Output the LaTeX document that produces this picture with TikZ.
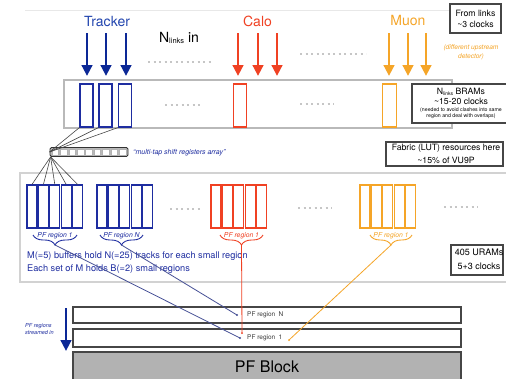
\documentclass[tikz,border=0pt]{standalone}
\usepackage{fontspec}
\setmainfont{TeX Gyre Heros}
\usetikzlibrary{arrows.meta,decorations.pathreplacing}
\definecolor{navy}{RGB}{12,40,150}
\definecolor{blueT}{RGB}{35,70,175}
\definecolor{blueR}{RGB}{30,45,160}
\definecolor{blueL}{RGB}{70,80,150}
\definecolor{redC}{RGB}{240,65,35}
\definecolor{orangeC}{RGB}{245,165,40}
\definecolor{boxgray}{RGB}{70,70,70}
\begin{document}
\begin{tikzpicture}[x=1pt,y=-1pt,
  inarrow/.style={line width=2.8pt,-{Triangle[length=11pt,width=10.5pt]}},
  bram/.style={draw,line width=1.2pt,minimum width=13pt,minimum height=43pt,inner sep=0pt},
  gbox/.style={draw,line width=1.2pt,minimum width=10pt,minimum height=43pt,inner sep=0pt},
  infobox/.style={draw=boxgray,line width=1.1pt,fill=white,inner sep=0pt},
  infotext/.style={inner sep=0pt,font=\fontsize{8.7}{10}\selectfont},
  dotsep/.style={line width=2.2pt,gray!45,dash pattern=on 2.2pt off 3.3pt},
  section/.style={gray!35,line width=1.3pt},
  pfrow/.style={draw=boxgray,line width=1.6pt,minimum width=388pt,inner sep=0pt},
  feed/.style={line width=0.8pt},
  brc/.style={decorate,decoration={brace,mirror,amplitude=10pt},line width=0.9pt},
  brlabel/.style={inner sep=0pt,font=\itshape\fontsize{6.8}{8}\selectfont},
  title/.style={inner sep=0pt,font=\fontsize{14}{16}\selectfont},
  rowlabel/.style={anchor=west,inner sep=0pt,text=gray!45!black,font=\fontsize{6.5}{8}\selectfont},
  wire/.style={gray!55!black,line width=0.6pt}]
\fill[white] (0,0) rectangle (506,378);
\useasboundingbox (0,0) rectangle (506,378);

% top section line
\draw[gray!18,line width=1pt] (25,10) -- (450,10);

% titles
\node[title,text=blueT] (trk) at (107,21) {Tracker};
\node[title,text=redC] (calo) at (257.5,21) {Calo};
\node[title,text=orangeC] (muon) at (408,20) {Muon};
\node[title] (nl) at (179,38) {N\raisebox{-0.5pt}{\fontsize{7.5}{8}\selectfont links} in};

% input arrows
\foreach \x [count=\i] in {87,106,126} {
  \coordinate (ts\i) at (\x,33); \coordinate (te\i) at (\x,76);
  \draw[inarrow,navy] (ts\i) -- (te\i);}
\foreach \x [count=\i] in {238,258,277} {
  \coordinate (cs\i) at (\x,33); \coordinate (ce\i) at (\x,76);
  \draw[inarrow,redC] (cs\i) -- (ce\i);}
\foreach \x [count=\i] in {389,408,426} {
  \coordinate (ms\i) at (\x,33); \coordinate (me\i) at (\x,76);
  \draw[inarrow,orangeC] (ms\i) -- (me\i);}

\draw[dotsep] (148,62) -- (213,62);
\draw[dotsep] (300,54) -- (366,54);

% from links box
\node[infobox,minimum width=51pt,minimum height=29pt] (fl) at (475.5,18.5) {};
\node[infotext] (fl1) at (475.5,13) {From links};
\node[infotext] (fl2) at (475.5,24.5) {\textasciitilde3 clocks};
\node[inner sep=0pt,text=orangeC,align=center,font=\itshape\fontsize{6.6}{9}\selectfont] (diff) at (471,52.5) {(different upstream\\detector)};

% BRAM row
\node[draw=gray!55,line width=1.2pt,minimum width=388pt,minimum height=48pt,inner sep=0pt] (bramrow) at (258,104) {};
\node[bram,draw=blueR] (t1) at (86.5,105.5) {};
\node[bram,draw=blueR] (t2) at (105.5,105.5) {};
\node[bram,draw=blueR] (t3) at (125,105.5) {};
\node[bram,draw=redC] (c1) at (240,105.5) {};
\node[bram,draw=orangeC,minimum width=14pt] (m1) at (389.5,105.5) {};
\draw[dotsep] (165,105) -- (200,105);
\draw[dotsep] (300,104) -- (334,104);

% BRAM info box
\node[infobox,minimum width=95pt,minimum height=39pt] (bi) at (459.5,103.5) {};
\node[infotext] (bi1) at (461,92) {N\raisebox{-0.3pt}{\fontsize{5}{6}\selectfont links} BRAMs};
\node[infotext] (bi2) at (461,101.5) {\textasciitilde15-20 clocks};
\node[inner sep=0pt,align=center,font=\fontsize{5.2}{6}\selectfont] (bi3) at (461,113.5) {(needed to avoid clashes into same\\region and deal with overlaps)};

% shift register
\node[draw=gray!40!black,fill=gray!55,rounded corners=1.5pt,minimum width=78pt,minimum height=9pt,inner sep=0pt,line width=0.8pt] (sr) at (89,152) {};
\foreach \i in {0,...,8} \fill[white,draw=gray!60,line width=0.4pt] ({52+\i*8.4},149) rectangle ({58.6+\i*8.4},155);
\node[anchor=west,inner sep=0pt,text=blueR,font=\itshape\fontsize{7}{8}\selectfont] (srl) at (133,153) {``multi-tap shift registers array''};
\foreach \i in {1,2,3} \draw[wire] (t\i.south west) -- (sr.west);

% fabric box
\node[infobox,minimum width=117pt,minimum height=24pt] (fab) at (444.5,154) {};
\node[infotext] (fab1) at (446,148.5) {Fabric (LUT) resources here};
\node[infotext] (fab2) at (446,160) {\textasciitilde15\% of VU9P};

% second section
\draw[section] (510,173) -- (20,173) -- (20,282) -- (510,282);

% region groups
\foreach \g/\x/\col in {r1/27/blueR,rN/97/blueR,rC/211/redC,rM/360/orangeC} {
  \foreach \i in {1,...,5} {
    \node[gbox,draw=\col] (\g-\i) at ({\x+5+(\i-1)*11.4},206.5) {};}}
\foreach \i in {1,...,5} \draw[wire] ([xshift=1pt]sr.south west) -- (r1-\i.north);

\draw[dotsep] (170,209) -- (202,209);
\draw[dotsep] (298,208) -- (332,208);
\draw[dotsep] (444,207) -- (478,207);

% braces
\draw[brc,blueR] (33,235) -- (77,235);
\draw[brc,blueR] (100,235) -- (143,235);
\draw[brc,redC] (220,235) -- (263,235);
\draw[brc,orangeC] (370,235) -- (412,235);
\node[brlabel,text=blueR] (l1) at (55,236) {PF region 1};
\node[brlabel,text=blueR] (lN) at (121.5,236) {PF region N};
\node[brlabel,text=redC] (lC) at (241.5,236) {PF region 1};
\node[brlabel,text=orangeC] (lM) at (391,236) {PF region 1};
\coordinate (tip1) at (55,245);
\coordinate (tipN) at (121.5,245);
\coordinate (tipC) at (241.5,245);
\coordinate (tipM) at (391,245);

\node[anchor=west,inner sep=0pt,text=blueR,font=\fontsize{9.2}{11}\selectfont] (txt1) at (27,256) {M(=5) buffers hold N(=25) tracks for each small region};
\node[anchor=west,inner sep=0pt,text=blueR,font=\fontsize{9.2}{11}\selectfont] (txt2) at (27,269) {Each set of M holds B(=2) small regions};

% URAM box
\node[infobox,minimum width=52pt,minimum height=30pt] (ur) at (477,260) {};
\node[infotext,font=\fontsize{9}{10}\selectfont] (ur1) at (479,252.5) {405 URAMs};
\node[infotext,font=\fontsize{9}{10}\selectfont] (ur2) at (479,266.5) {5+3 clocks};

% PF rows
\node[pfrow,minimum height=16pt] (rowN) at (267,315) {};
\node[pfrow,minimum height=18pt] (row1) at (267,338) {};
\node[pfrow,fill=gray!60,minimum height=30pt,font=\fontsize{16}{18}\selectfont] (blk) at (267,367) {PF Block};
\node[rowlabel] (lbN) at (247,315) {PF region\enspace N};
\node[rowlabel] (lb1) at (247,338) {PF region\enspace 1};

% streamed arrow
\coordinate (sa) at (66,308); \coordinate (sb) at (66,351);
\draw[inarrow,navy] (sa) -- (sb);
\node[anchor=west,inner sep=0pt,text=blueR,align=left,font=\itshape\fontsize{5.5}{7.5}\selectfont] (strm) at (25,329) {PF regions\\streamed in};

% feeds
\coordinate (e1) at (240,338);
\coordinate (eN) at (237,315);
\coordinate (eC) at (242,333);
\coordinate (eM) at (289,340);
\draw[feed,blueL] (tip1) -- (e1);
\draw[feed,blueL] (tipN) -- (eN);
\draw[feed,redC] (tipC) -- (eC);
\draw[feed,orangeC] (tipM) -- (eM);
\fill[blueL] (e1) circle (1.2pt);
\fill[blueL] (eN) circle (1.2pt);
\fill[redC] (eC) circle (1pt);
\fill[orangeC] (eM) circle (1pt);
\end{tikzpicture}
\end{document}
